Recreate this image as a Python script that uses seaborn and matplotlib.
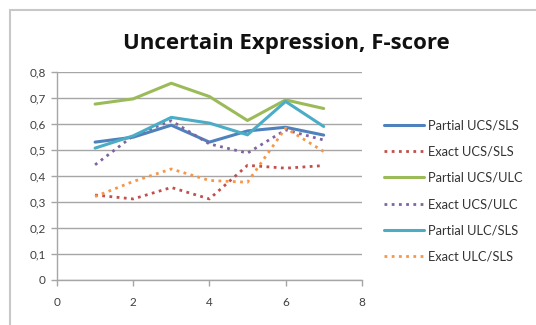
import numpy as np
import pandas as pd
import seaborn as sns
import matplotlib.pyplot as plt
from matplotlib.patches import Rectangle
from matplotlib.ticker import FuncFormatter, MultipleLocator

# data
runs = [1, 2, 3, 4, 5, 6, 7]
partial_ucs_sls = [0.529, 0.548, 0.594, 0.529, 0.572, 0.586, 0.556]
exact_ucs_sls = [0.326, 0.311, 0.355, 0.311, 0.440, 0.429, 0.439]
partial_ucs_ulc = [0.675, 0.695, 0.755, 0.704, 0.612, 0.691, 0.658]
exact_ucs_ulc = [0.442, 0.553, 0.611, 0.522, 0.487, 0.576, 0.537]
partial_ulc_sls = [0.506, 0.553, 0.624, 0.602, 0.557, 0.685, 0.589]
exact_ulc_sls = [0.320, 0.378, 0.426, 0.382, 0.375, 0.583, 0.493]

series = [
    ('Partial UCS/SLS', partial_ucs_sls, '#4F81BD', '-'),
    ('Exact UCS/SLS', exact_ucs_sls, '#C0504D', ':'),
    ('Partial UCS/ULC', partial_ucs_ulc, '#9BBB59', '-'),
    ('Exact UCS/ULC', exact_ucs_ulc, '#8064A2', ':'),
    ('Partial ULC/SLS', partial_ulc_sls, '#4BACC6', '-'),
    ('Exact ULC/SLS', exact_ulc_sls, '#F79646', ':'),
]

sns.set_theme(style='white')
plt.rcParams['font.family'] = ['Lato', 'DejaVu Sans']

fig = plt.figure(figsize=(5.36, 3.25), dpi=100)
ax = fig.add_axes([0.1063, 0.1385, 0.5687, 0.6415])

# chart frame (cut off at right and bottom)
fig.patches.append(Rectangle((9.5 / 536, -0.2), 1.2, 1.2 - 10 / 325,
                             transform=fig.transFigure, fill=False,
                             edgecolor='#c8c8c8', linewidth=1.5))

for name, vals, col, ls in series:
    df = pd.DataFrame({'x': runs, 'y': vals})
    if ls == '-':
        sns.lineplot(data=df, x='x', y='y', ax=ax, color=col, linewidth=2.2,
                     label=name)
    else:
        sns.lineplot(data=df, x='x', y='y', ax=ax, color=col, linewidth=2.0,
                     linestyle=(0, (1, 1.6)), label=name)

ax.set_xlim(0, 8)
ax.set_ylim(0, 0.8)
ax.xaxis.set_major_locator(MultipleLocator(2))
ax.yaxis.set_major_locator(MultipleLocator(0.1))
ax.yaxis.set_major_formatter(FuncFormatter(lambda v, p: '0' if abs(v) < 1e-9 else f'{v:.1f}'.replace('.', ',')))
ax.xaxis.set_major_formatter(FuncFormatter(lambda v, p: f'{v:.0f}'))
ax.set_xlabel('')
ax.set_ylabel('')
ax.grid(axis='y', color='#a6a6a6', linewidth=1)
ax.set_axisbelow(True)
for s in ['top', 'right']:
    ax.spines[s].set_visible(False)
for s in ['left', 'bottom']:
    ax.spines[s].set_color('#a6a6a6')
    ax.spines[s].set_linewidth(1)
ax.tick_params(axis='both', direction='out', length=4, width=1, color='#a6a6a6',
               labelsize=8.5, labelcolor='#404040', pad=4, left=True, bottom=True)
ax.tick_params(axis='x', pad=8)

fig.text(0.534, 0.866, 'Uncertain Expression, F-score', ha='center', va='center',
         fontsize=16, fontweight='bold', color='#111111', family='Open Sans')

leg = ax.legend(loc='upper left', bbox_to_anchor=(1.055, 0.795), frameon=False,
                fontsize=9.3, handlelength=3.1, handletextpad=0.3, labelspacing=1.1,
                borderaxespad=0)
for t in leg.get_texts():
    t.set_color('#333333')

fig.savefig('out.png', dpi=100, facecolor='white')
